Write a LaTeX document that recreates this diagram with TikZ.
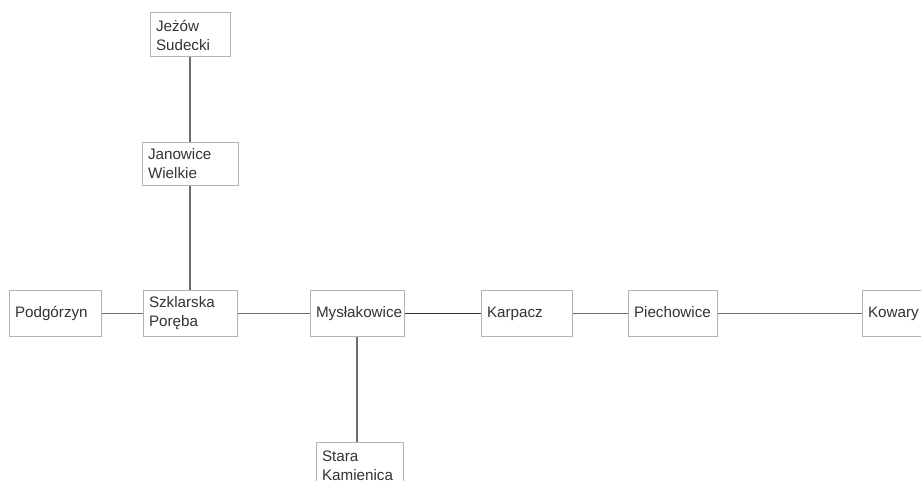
\documentclass[tikz,border=0pt]{standalone}
\usepackage{fontspec}
\setmainfont{Liberation Sans}
\definecolor{ink}{HTML}{333333}
\definecolor{frame}{HTML}{B4B4B4}
\definecolor{road}{HTML}{6E6E6E}

\begin{document}
\begin{tikzpicture}[
  x=0.5pt,y=-0.5pt,
  font=\fontsize{7.6}{9.5}\selectfont,
  text=ink,
  town/.style={draw=frame,fill=white,line width=0.5pt,
    inner xsep=3pt,inner ysep=2pt,align=left,minimum height=23pt},
  oneline/.style={text height=5.6pt,text depth=1.6pt},
  link/.style={draw=road,line width=0.7pt},
  mainlink/.style={draw=ink,line width=0.95pt}
]
\useasboundingbox (0,0) rectangle (921,481);
\clip (0,0) rectangle (921,481);
\fill[white] (0,0) rectangle (921,481);

\node[town,text width=34pt,minimum height=22pt] (jezow) at (190,35)
  {Jeżów\\Sudecki};
\node[town,text width=42pt,minimum height=21pt] (janowice) at (190,164)
  {Janowice\\Wielkie};
\node[town,oneline,text width=40pt] (podgorzyn) at (55,313.5) {Podgórzyn};
\node[town,text width=41pt] (szklarska) at (190,313.5)
  {Szklarska\\Poręba};
\node[town,oneline,text width=41pt] (myslakowice) at (357,313.5) {Mysłakowice};
\node[town,oneline,text width=39.5pt] (karpacz) at (526.5,313.5) {Karpacz};
\node[town,oneline,text width=38.5pt] (piechowice) at (672.5,313.5) {Piechowice};
\node[town,oneline,text width=39pt] (kowary) at (907,313.5) {Kowary};
\node[town,text width=37.5pt,minimum height=23.5pt] (stara) at (359.5,465.5)
  {Stara\\Kamienica};

\draw[link] (jezow) -- (janowice);
\draw[link] (janowice) -- (szklarska);
\draw[link] (podgorzyn) -- (szklarska);
\draw[link] (szklarska) -- (myslakowice);
\draw[mainlink] (myslakowice) -- (karpacz);
\draw[link] (karpacz) -- (piechowice);
\draw[link] (piechowice) -- (kowary);
\draw[link] (myslakowice.south) -- (myslakowice.south |- stara.north);
\end{tikzpicture}
\end{document}
